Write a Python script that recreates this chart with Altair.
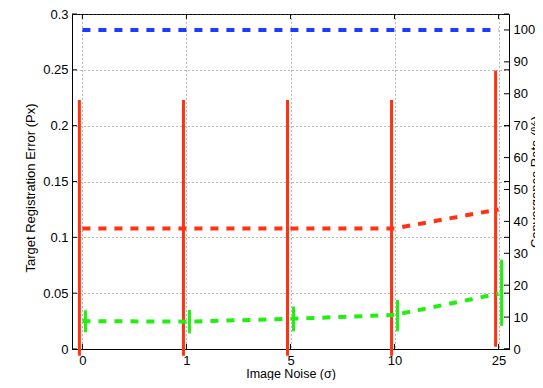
import altair as alt
import pandas as pd

# ---- data ----
noise = ["0", "1", "5", "10", "25"]
red_mean = [0.108, 0.108, 0.108, 0.108, 0.125]
red_low = [-0.006, -0.006, -0.006, -0.006, 0.002]
red_high = [0.223, 0.223, 0.223, 0.223, 0.2495]
green_mean = [0.025, 0.0245, 0.027, 0.0305, 0.0495]
green_low = [0.015, 0.014, 0.0158, 0.0158, 0.0207]
green_high = [0.0347, 0.035, 0.038, 0.0439, 0.080]
convergence = [100, 100, 100, 100, 100]
left_ticks = [0, 0.05, 0.1, 0.15, 0.2, 0.25, 0.3]
right_ticks = [0, 10, 20, 30, 40, 50, 60, 70, 80, 90, 100]

W, H = 437, 335
RED = "#ff3311"
GREEN = "#22ee11"
BLUE = "#1a3cff"
FONT = "Liberation Sans"

df = pd.DataFrame({
    "noise": noise,
    "red_mean": red_mean, "red_low": red_low, "red_high": red_high,
    "green_mean": green_mean, "green_low": green_low, "green_high": green_high,
    "conv": convergence,
})
df_lt = pd.DataFrame({"v": left_ticks})
df_rt = pd.DataFrame({"v": right_ticks})

xscale = alt.Scale(type="point", padding=0.1)
xaxis = alt.Axis(title="Image Noise (σ)", labelAngle=0, grid=True, ticks=False,
                 labelPadding=5, titleY=28.5, titleBaseline="alphabetic",
                 titleFontSize=12.5)
X = alt.X("noise:O", sort=noise, scale=xscale, axis=xaxis)

lscale = alt.Scale(domain=[0, 0.3], nice=False, zero=False)
laxis = alt.Axis(title="Target Registration Error (Px)", values=left_ticks, format="~g",
                 grid=True, ticks=False, labelPadding=4, titleX=-35, titleY=H / 2 + 6,
                 titleAngle=270, titleBaseline="bottom", titleAlign="center")

def LY(field):
    return alt.Y(field, type="quantitative", scale=lscale, axis=laxis)

base = alt.Chart(df)

red_bars = base.mark_rule(color=RED, strokeWidth=3, xOffset=-3).encode(
    x=X, y=LY("red_low"), y2="red_high")
red_line = base.mark_line(color=RED, strokeWidth=4, strokeDash=[8, 8]).encode(
    x=X, y=LY("red_mean"))
green_line = base.mark_line(color=GREEN, strokeWidth=4, strokeDash=[8, 8]).encode(
    x=X, y=LY("green_mean"))
green_bars = base.mark_rule(color=GREEN, strokeWidth=3, xOffset=3).encode(
    x=X, y=LY("green_low"), y2="green_high")

# inward tick marks (left axis and mirrored on right edge)
lt_left = alt.Chart(df_lt).mark_rule(color="black", strokeWidth=1).encode(
    y=LY("v"), x=alt.value(0), x2=alt.value(5))
lt_right = alt.Chart(df_lt).mark_rule(color="black", strokeWidth=1).encode(
    y=LY("v"), x=alt.value(W - 5), x2=alt.value(W))
# inward x tick marks at bottom and top
xt_bottom = base.mark_rule(color="black", strokeWidth=1).encode(
    x=X, y=alt.value(H - 5), y2=alt.value(H))
xt_top = base.mark_rule(color="black", strokeWidth=1).encode(
    x=X, y=alt.value(0), y2=alt.value(5))

left = alt.layer(red_line, red_bars, green_line, green_bars,
                 lt_left, lt_right, xt_bottom, xt_top)

rscale = alt.Scale(domain=[0, 105], nice=False, zero=False)
raxis = alt.Axis(title="Convergence Rate (%)", orient="right", values=right_ticks,
                 grid=False, ticks=False, labelPadding=4, titleX=20, titleY=H / 2,
                 titleAngle=270, titleBaseline="top", titleAlign="center")

def RY(field):
    return alt.Y(field, type="quantitative", scale=rscale, axis=raxis)

blue_line = base.mark_line(color=BLUE, strokeWidth=4, strokeDash=[8, 8]).encode(
    x=X, y=RY("conv"))
rt_right = alt.Chart(df_rt).mark_rule(color="black", strokeWidth=1).encode(
    y=RY("v"), x=alt.value(W - 5), x2=alt.value(W))

right = alt.layer(blue_line, rt_right)

chart = alt.layer(left, right).resolve_scale(y="independent").properties(
    width=W, height=H,
    autosize=alt.AutoSizeParams(type="none"),
    padding={"left": 64, "top": 6, "right": 26, "bottom": 31},
).configure_view(stroke="black", strokeWidth=1).configure_axis(
    labelFont=FONT, titleFont=FONT, labelFontSize=13, titleFontSize=13,
    titleFontWeight="normal", labelColor="black", titleColor="black",
    domainColor="black", domainWidth=1, gridColor="#555", gridDash=[1, 3],
    gridWidth=1, gridOpacity=0.8,
)

chart.save("out.html", embed_options={"renderer": "svg", "actions": False})
